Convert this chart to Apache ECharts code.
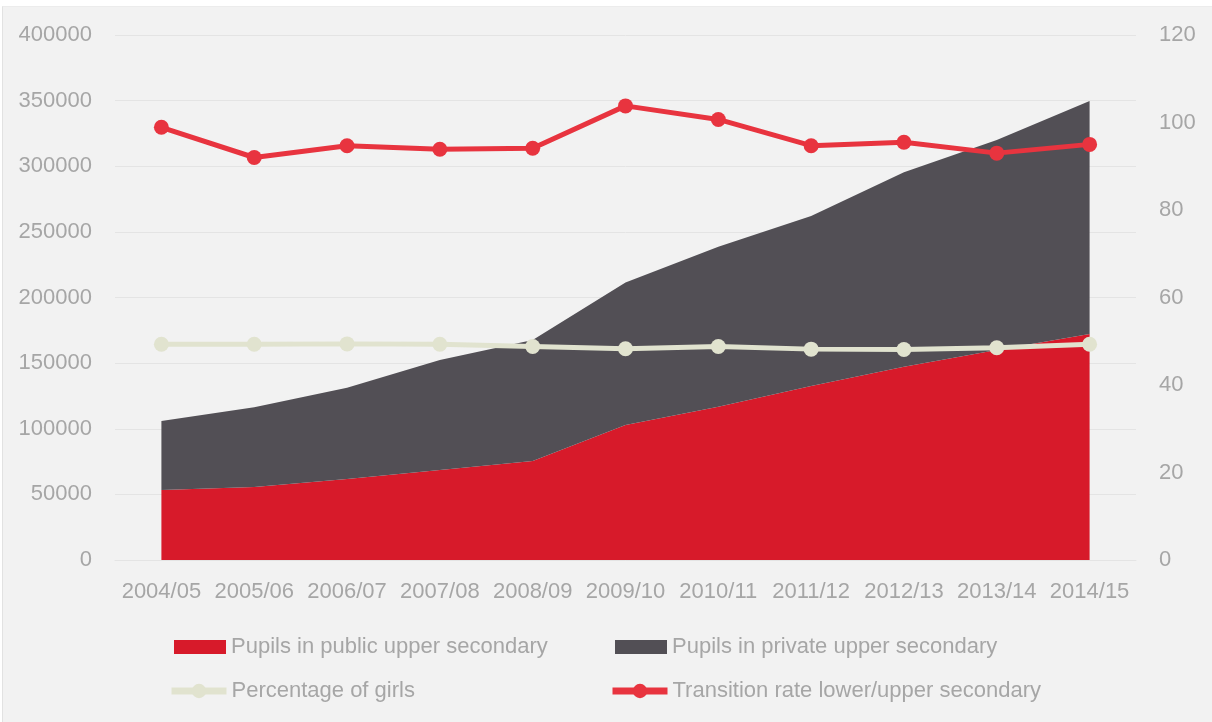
<!DOCTYPE html>
<html>
<head>
<meta charset="utf-8">
<script src="https://cdn.jsdelivr.net/npm/echarts@6/dist/echarts.min.js"></script>
<style>
  html, body { margin: 0; padding: 0; background: #ffffff; }
  #frame {
    position: absolute; left: 2px; top: 6px; width: 1209px; height: 715px;
    background: #f2f2f2; border-left: 1px solid #e2e2e2; border-top: 1px solid #ececec;
  }
  #chart { position: absolute; left: -3px; top: -7px; width: 1212px; height: 722px; }
</style>
</head>
<body>
<div id="frame"><div id="chart"></div></div>
<script>
// school years
var years = ['2004/05', '2005/06', '2006/07', '2007/08', '2008/09', '2009/10',
  '2010/11', '2011/12', '2012/13', '2013/14', '2014/15']
// pupils (left axis)
var publicPupils = [53300, 55600, 61700, 68600, 75400, 102900, 116700, 132600, 147300, 160000, 172200]
var privatePupils = [52600, 60700, 69600, 83800, 92200, 108600, 122000, 129500, 148100, 160000, 177500]
// percentages (right axis)
var girlsShare = [49.3, 49.3, 49.4, 49.3, 48.8, 48.3, 48.8, 48.2, 48.1, 48.5, 49.3]
var transitionRate = [98.9, 92.0, 94.7, 93.9, 94.1, 103.8, 100.7, 94.7, 95.5, 93.0, 95.0]

var names = ['Pupils in public upper secondary', 'Pupils in private upper secondary',
  'Percentage of girls', 'Transition rate lower/upper secondary']

var txt = '#a6a6a6'
var font = 'Liberation Sans'
var grid = '#e4e4e4'

// one legend per item so that each one can sit where it does in the picture
function areaLegend (name, left, top) {
  return {
    data: [{ name: name, icon: 'rect' }],
    left: left,
    top: top,
    padding: 0,
    itemWidth: 52,
    itemHeight: 14,
    textStyle: { color: txt, fontFamily: font, fontSize: 22 }
  }
}
function lineLegend (name, left, top) {
  return {
    data: [name],
    left: left,
    top: top,
    padding: 0,
    itemWidth: 55,
    itemHeight: 18,
    lineStyle: { width: 7 },
    textStyle: { color: txt, fontFamily: font, fontSize: 22 }
  }
}

var chart = echarts.init(document.getElementById('chart'), null, { renderer: 'canvas' })
chart.setOption({
  backgroundColor: 'transparent',
  animation: false,
  grid: { left: 115, right: 76, top: 35, bottom: 162, containLabel: false },
  legend: [
    areaLegend(names[0], 174, 636),
    areaLegend(names[1], 615, 636),
    lineLegend(names[2], 168, 680),
    lineLegend(names[3], 609, 680)
  ],
  xAxis: {
    type: 'category',
    data: years,
    boundaryGap: true,
    axisLine: { show: true, lineStyle: { color: grid } },
    axisTick: { show: false },
    axisLabel: { color: txt, fontFamily: font, fontSize: 22, margin: 21, interval: 0 }
  },
  yAxis: [
    {
      type: 'value',
      min: 0,
      max: 400000,
      interval: 50000,
      axisLine: { show: false },
      axisTick: { show: false },
      splitLine: { lineStyle: { color: grid, width: 1 } },
      axisLabel: { color: txt, fontFamily: font, fontSize: 22, margin: 23, formatter: function (v) { return String(v) } }
    },
    {
      type: 'value',
      min: 0,
      max: 120,
      interval: 20,
      axisLine: { show: false },
      axisTick: { show: false },
      splitLine: { show: false },
      axisLabel: { color: txt, fontFamily: font, fontSize: 22, margin: 23 }
    }
  ],
  series: [
    {
      name: names[0],
      type: 'line',
      stack: 'pupils',
      data: publicPupils,
      color: '#d71a2a',
      showSymbol: false,
      lineStyle: { width: 0 },
      areaStyle: { color: '#d71a2a', opacity: 1 }
    },
    {
      name: names[1],
      type: 'line',
      stack: 'pupils',
      data: privatePupils,
      color: '#524f55',
      showSymbol: false,
      lineStyle: { width: 0 },
      areaStyle: { color: '#524f55', opacity: 1 }
    },
    {
      name: names[2],
      type: 'line',
      yAxisIndex: 1,
      data: girlsShare,
      color: '#e1e3cf',
      symbol: 'circle',
      symbolSize: 15,
      lineStyle: { width: 5, color: '#e1e3cf' },
      itemStyle: { color: '#e1e3cf' }
    },
    {
      name: names[3],
      type: 'line',
      yAxisIndex: 1,
      data: transitionRate,
      color: '#e8343f',
      symbol: 'circle',
      symbolSize: 15,
      lineStyle: { width: 5, color: '#e8343f' },
      itemStyle: { color: '#e8343f' }
    }
  ]
})
</script>
</body>
</html>
